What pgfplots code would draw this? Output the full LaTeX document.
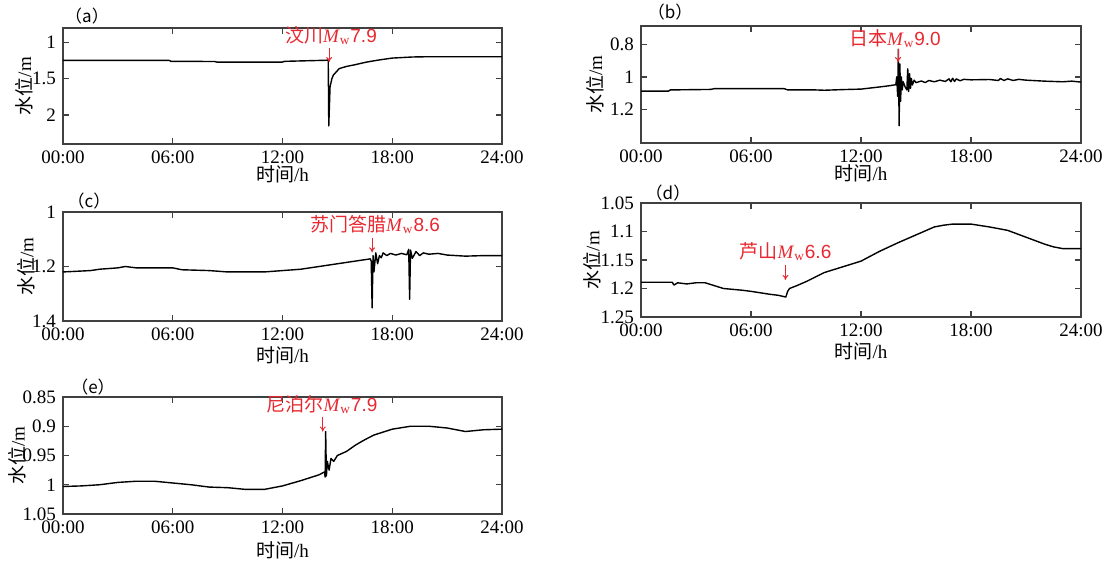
\documentclass[border=0pt]{standalone}
\usepackage{fontspec}
\setmainfont{Liberation Serif}
\setsansfont{Liberation Sans}
\newfontfamily\cjk{Noto Sans CJK SC}
\usepackage{pgfplots}
\pgfplotsset{compat=1.18}
\usetikzlibrary{arrows.meta}
\definecolor{eqred}{RGB}{232,40,48}

\pgfplotsset{
  wl/.style={
    scale only axis, xmin=0, xmax=24, y dir=reverse,
    xtick={0,6,12,18,24}, xticklabels={00:00,06:00,12:00,18:00,24:00},
    tick align=inside, major tick length=3pt,
    axis line style={black!75, line width=0.8pt},
    tick style={black!75, line width=0.6pt},
    /pgf/number format/assume math mode=true,
    tick label style={font=\rmfamily\fontsize{9.5}{11}\selectfont},
    label style={font=\rmfamily\fontsize{9.5}{11}\selectfont},
    ylabel={{\cjk 水位}/m}, xlabel={{\cjk 时间}/h},
    clip=false,
  },
}
\tikzset{
  wlline/.style={black, line width=0.7pt, line join=round},
  ann/.style={text=eqred, font=\rmfamily\fontsize{9.5}{11}\selectfont, inner sep=0pt},
  annarrow/.style={eqred, line width=0.5pt, -{To[length=2.5pt,width=3pt]}},
  panel/.style={font=\fontsize{8.5}{10}\selectfont\cjk, inner sep=0pt},
}

\begin{document}
\begin{tikzpicture}
\useasboundingbox (0,0) rectangle (557.5pt,281pt);

% (a)
\begin{axis}[wl, at={(31.5pt,209pt)}, anchor=south west,
  width=219.5pt, height=58pt, ymin=0.8, ymax=2.4, ytick={1,1.5,2},
  ylabel style={at={(axis description cs:-0.089,0.5)}, anchor=center},
  xlabel style={at={(axis description cs:0.5,0)}, anchor=center, yshift=-15pt}]
\addplot[wlline] coordinates {
 (0,1.246) (5.8,1.246) (5.9,1.26) (8.3,1.262) (8.4,1.27) (12,1.27) (12.1,1.26)
 (14.4,1.245) (14.5,1.24) (14.53,2.15) (14.6,1.61) (14.7,1.5) (14.78,1.45)
 (15.1,1.36) (15.5,1.33) (15.9,1.31) (16.6,1.27) (17.3,1.24) (18,1.215)
 (19.1,1.2) (20,1.196) (24,1.196)};
\node[ann] at (axis cs:14.65,0.897) {{\cjk 汶川}\textit{M}\textsubscript{w}{\sffamily 7.9}};
\draw[annarrow] (axis cs:14.55,1.076) -- (axis cs:14.55,1.27);
\node[panel] at (axis description cs:0,1) [xshift=12pt,yshift=6pt] {（a）};
\end{axis}

% (b)
\begin{axis}[wl, at={(320.5pt,209.6pt)}, anchor=south west,
  width=220pt, height=58.4pt, ymin=0.687, ymax=1.405, ytick={0.8,1,1.2},
  ylabel style={at={(axis description cs:-0.105,0.5)}, anchor=center},
  xlabel style={at={(axis description cs:0.5,0)}, anchor=center, yshift=-15.5pt}]
\addplot[wlline] coordinates {
 (0,1.087) (1.5,1.087) (1.6,1.08) (3.8,1.077) (4,1.072) (7.8,1.072) (8,1.08)
 (9.5,1.08) (10,1.082) (11,1.078) (12,1.075) (13,1.062) (13.5,1.055) (13.9,1.048)
 (13.95,1.0) (14.0,1.12) (14.04,0.83) (14.08,1.30) (14.12,0.92) (14.16,1.15)
 (14.2,1.0) (14.25,1.08) (14.3,1.03) (14.4,1.06) (14.5,1.08) (14.55,0.95)
 (14.6,1.09) (14.65,0.98) (14.7,1.07) (14.75,1.01) (14.8,1.05) (14.9,1.02)
 (15,1.035) (15.3,1.025) (15.5,1.035) (15.7,1.022) (16,1.03) (16.3,1.02)
 (16.6,1.028) (16.8,1.012) (16.9,1.03) (17.0,1.008) (17.1,1.028) (17.2,1.012)
 (17.4,1.024) (17.6,1.015) (18,1.018) (19,1.016) (19.5,1.022) (19.6,1.01)
 (19.8,1.022) (20,1.012) (20.3,1.022) (20.6,1.015) (21,1.02) (22,1.026)
 (23,1.03) (23.5,1.026) (24,1.032)};
\node[ann] at (axis cs:13.85,0.767) {{\cjk 日本}\textit{M}\textsubscript{w}{\sffamily 9.0}};
\draw[annarrow] (axis cs:14.02,0.83) -- (axis cs:14.02,0.909);
\node[panel] at (axis description cs:0,1) [xshift=14.5pt,yshift=7pt] {（b）};
\end{axis}

% (c)
\begin{axis}[wl, at={(31.5pt,120.5pt)}, anchor=south west,
  width=219.5pt, height=54.5pt, ymin=1, ymax=1.4, ytick={1,1.2,1.4},
  ylabel style={at={(axis description cs:-0.084,0.5)}, anchor=center},
  xlabel style={at={(axis description cs:0.5,0)}, anchor=center, yshift=-17pt}]
\addplot[wlline] coordinates {
 (0,1.22) (1.5,1.215) (2,1.21) (3,1.205) (3.4,1.2) (4,1.205) (6,1.205)
 (6.5,1.212) (8,1.215) (9,1.22) (11,1.22) (12,1.215) (13,1.21) (14,1.2)
 (15,1.19) (16,1.18) (16.8,1.172) (16.85,1.18) (16.9,1.352) (16.95,1.16)
 (17.0,1.22) (17.1,1.15) (17.2,1.19) (17.3,1.16) (17.4,1.168) (17.5,1.15)
 (17.7,1.16) (17.9,1.152) (18.2,1.158) (18.5,1.152) (18.8,1.157)
 (18.9,1.137) (18.95,1.32) (19.0,1.14) (19.1,1.17) (19.3,1.145)
 (19.5,1.16) (19.7,1.15) (20,1.155) (20.5,1.152) (21,1.158) (21.5,1.16)
 (22,1.162) (23,1.16) (24,1.16)};
\node[ann] at (axis cs:17.06,1.045) {{\cjk 苏门答腊}\textit{M}\textsubscript{w}{\sffamily 8.6}};
\draw[annarrow] (axis cs:16.9,1.097) -- (axis cs:16.9,1.148);
\node[panel] at (axis description cs:0,1) [xshift=13pt,yshift=5.5pt] {（c）};
\end{axis}

% (d)
\begin{axis}[wl, at={(320.5pt,122.5pt)}, anchor=south west,
  width=220pt, height=57pt, ymin=1.05, ymax=1.25,
  ytick={1.05,1.1,1.15,1.2,1.25},
  ylabel style={at={(axis description cs:-0.111,0.5)}, anchor=center},
  xlabel style={at={(axis description cs:0.5,0)}, anchor=center, yshift=-17pt}]
\addplot[wlline] coordinates {
 (0,1.189) (1.7,1.189) (1.8,1.194) (2,1.19) (2.5,1.192) (3,1.19) (3.5,1.19)
 (4,1.195) (4.5,1.2) (5.5,1.203) (6,1.205) (7,1.21) (7.5,1.212) (7.9,1.215)
 (8,1.205) (8.1,1.2) (8.5,1.195) (9,1.188) (10,1.172) (11,1.162) (12,1.152)
 (13,1.135) (14,1.12) (15,1.106) (16,1.092) (16.5,1.089) (17,1.087)
 (18,1.087) (19,1.092) (20,1.098) (21,1.11) (22,1.122) (22.5,1.127)
 (23,1.13) (24,1.13)};
\node[ann] at (axis cs:7.88,1.135) {{\cjk 芦山}\textit{M}\textsubscript{w}{\sffamily 6.6}};
\draw[annarrow] (axis cs:7.88,1.158) -- (axis cs:7.88,1.185);
\node[panel] at (axis description cs:0,1) [xshift=13.5pt,yshift=5pt] {（d）};
\end{axis}

% (e)
\begin{axis}[wl, at={(31.5pt,24pt)}, anchor=south west,
  width=219.5pt, height=58.5pt, ymin=0.85, ymax=1.05,
  ytick={0.85,0.9,0.95,1,1.05},
  ylabel style={at={(axis description cs:-0.104,0.5)}, anchor=center},
  xlabel style={at={(axis description cs:0.5,0)}, anchor=center, yshift=-18pt}]
\addplot[wlline] coordinates {
 (0,1.003) (1,1.002) (2,1.0) (3,0.996) (4,0.994) (5,0.994) (6,0.997) (7,1.0)
 (8,1.004) (9,1.005) (10,1.008) (11,1.008) (12,1.002) (13,0.993) (14,0.983)
 (14.3,0.978) (14.33,0.987) (14.36,0.909) (14.4,0.985) (14.45,0.96)
 (14.55,0.975) (14.65,0.955) (14.8,0.96) (15,0.95) (15.5,0.943) (16,0.932)
 (16.5,0.923) (17,0.915) (18,0.905) (19,0.9) (20,0.9) (21,0.903) (22,0.909)
 (23,0.906) (24,0.905)};
\node[ann] at (axis cs:14.16,0.863) {{\cjk 尼泊尔}\textit{M}\textsubscript{w}{\sffamily 7.9}};
\draw[annarrow] (axis cs:14.2,0.884) -- (axis cs:14.2,0.909);
\node[panel] at (axis description cs:0,1) [xshift=15pt,yshift=5pt] {（e）};
\end{axis}
\end{tikzpicture}
\end{document}
